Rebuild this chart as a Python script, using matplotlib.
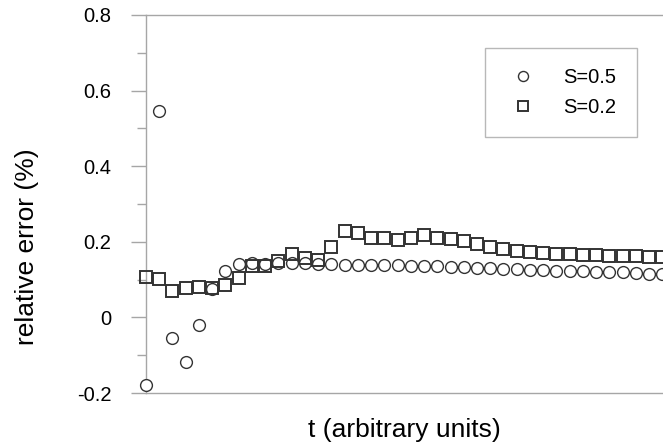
import numpy as np
import matplotlib
matplotlib.use("Agg")
import matplotlib.pyplot as plt
from matplotlib.ticker import MultipleLocator, NullLocator

plt.rcParams['font.family'] = ['Liberation Sans', 'DejaVu Sans']

# relative error (%), 40 time steps
t = list(range(40))
err_s05 = [-0.178, 0.545, -0.054, -0.119, -0.021, 0.076, 0.124, 0.141, 0.145, 0.140,
           0.143, 0.143, 0.143, 0.141, 0.140, 0.139, 0.139, 0.138, 0.138, 0.138,
           0.137, 0.136, 0.135, 0.134, 0.133, 0.131, 0.130, 0.128, 0.127, 0.126,
           0.125, 0.124, 0.123, 0.122, 0.121, 0.120, 0.119, 0.118, 0.116, 0.115]
err_s02 = [0.108, 0.102, 0.071, 0.078, 0.080, 0.079, 0.086, 0.105, 0.135, 0.136,
           0.149, 0.167, 0.156, 0.152, 0.186, 0.228, 0.224, 0.211, 0.211, 0.205,
           0.211, 0.218, 0.211, 0.208, 0.201, 0.193, 0.186, 0.180, 0.176, 0.173,
           0.170, 0.168, 0.167, 0.165, 0.164, 0.163, 0.163, 0.162, 0.161, 0.160]
labels = ["S=0.5", "S=0.2"]
yticks = [-0.2, 0, 0.2, 0.4, 0.6, 0.8]
yticklabels = ["-0.2", "0", "0.2", "0.4", "0.6", "0.8"]

fig = plt.figure(figsize=(6.63, 4.44), dpi=100)
ax = fig.add_axes([146 / 663, 51 / 444, 517 / 663, 378 / 444])

edge = "#333333"
ax.plot(t, err_s05, 'o', ms=8.5, mfc='white', mec=edge, mew=1.0, clip_on=False,
        label=labels[0], zorder=3)
ax.plot(t, err_s02, 's', ms=8.5, mfc='none', mec=edge, mew=1.4, clip_on=False,
        label=labels[1], zorder=3)

ax.set_xlim(0, 517 / 13.24)
ax.set_ylim(-0.2, 0.8)
ax.xaxis.set_major_locator(NullLocator())
ax.set_yticks(yticks)
ax.set_yticklabels(yticklabels)
ax.yaxis.set_minor_locator(MultipleLocator(0.1))

grey = "#a6a6a6"
for side in ['left', 'bottom', 'top']:
    ax.spines[side].set_color(grey)
    ax.spines[side].set_linewidth(1.0)
ax.spines['right'].set_visible(False)
ax.tick_params(axis='y', which='major', direction='out', length=11, width=1,
               color=grey, labelsize=14.5, pad=14)
ax.tick_params(axis='y', which='minor', direction='out', length=6.5, width=1,
               color=grey)

ax.set_xlabel("t (arbitrary units)", fontsize=19, labelpad=18)
ax.set_ylabel("relative error (%)", fontsize=19)
ax.yaxis.set_label_coords(-0.206, 0.386)

leg = ax.legend(loc='upper left', bbox_to_anchor=(485 / 663, 1 - 48 / 444),
                bbox_transform=fig.transFigure, fontsize=14.5, frameon=True,
                fancybox=False, edgecolor=grey, borderpad=1.0, labelspacing=0.55,
                handletextpad=1.1, borderaxespad=0, markerscale=0.85,
                handlelength=1.8)
leg.get_frame().set_linewidth(1.0)

fig.savefig("out.png", dpi=100)
